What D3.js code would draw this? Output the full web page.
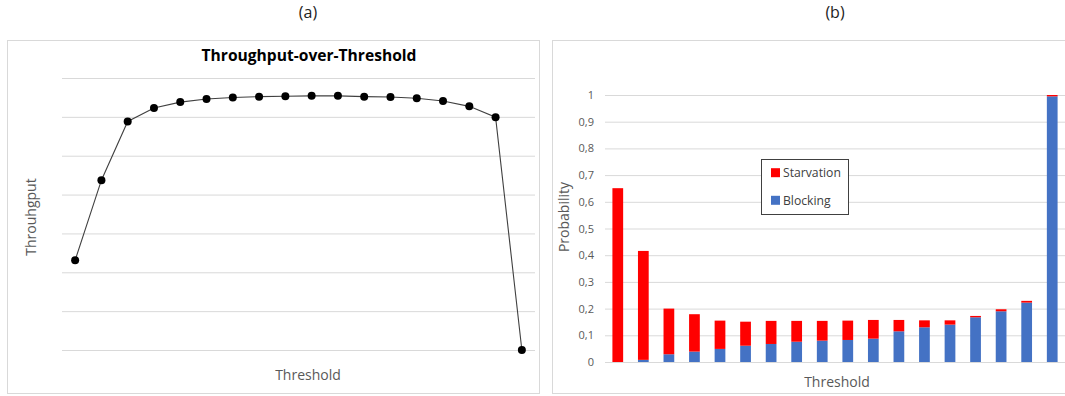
<!DOCTYPE html>
<html><head><meta charset="utf-8">
<script src="https://cdn.jsdelivr.net/npm/d3@7"></script>
<style>
body{margin:0;background:#fff;}
svg{display:block;font-family:"Open Sans","Noto Sans",sans-serif;}
</style>
</head><body>
<svg id="c" width="1065" height="396"></svg>
<script>
// ---- data ----
const thresholds = [1,2,3,4,5,6,7,8,9,10,11,12,13,14,15,16,17,18];
const throughput = [2.31,4.37,5.88,6.23,6.38,6.46,6.50,6.52,6.53,6.54,6.54,6.52,6.51,6.48,6.41,6.27,5.99,0];
const throughputGrid = [0,1,2,3,4,5,6,7];
const blocking   = [0,0.008,0.029,0.039,0.049,0.061,0.0675,0.076,0.080,0.0825,0.0875,0.115,0.130,0.140,0.1675,0.190,0.2225,0.995];
const starvation = [0.651,0.408,0.171,0.140,0.106,0.090,0.0865,0.078,0.074,0.0725,0.070,0.0425,0.026,0.016,0.005,0.0075,0.0065,0.005];
const probTicks = [0,0.1,0.2,0.3,0.4,0.5,0.6,0.7,0.8,0.9,1];
const seriesKeys = ["blocking","starvation"];
const seriesNames = {starvation:"Starvation", blocking:"Blocking"};
const seriesColors = {starvation:"#FF0000", blocking:"#4472C4"};

const svg = d3.select("#c");
const grid = "#D9D9D9", axisText = "#595959";

// panel captions
svg.append("text").attr("x",308).attr("y",12).attr("text-anchor","middle").attr("dominant-baseline","central")
  .attr("font-size",16).attr("fill","#222").text("(a)");
svg.append("text").attr("x",835).attr("y",12).attr("text-anchor","middle").attr("dominant-baseline","central")
  .attr("font-size",16).attr("fill","#222").text("(b)");

// panel borders
svg.append("rect").attr("x",7.5).attr("y",40.5).attr("width",532).attr("height",353)
  .attr("fill","none").attr("stroke",grid);
svg.append("rect").attr("x",552.5).attr("y",40.5).attr("width",520).attr("height",353)
  .attr("fill","none").attr("stroke",grid);

// ---- chart (a) ----
const xa = d3.scalePoint().domain(thresholds).range([62,535]).padding(0.5);
const ya = d3.scaleLinear().domain([0,7]).range([350,78]);
const ga = svg.append("g");
ga.append("g").attr("transform","translate(62,0)")
  .call(d3.axisLeft(ya).tickValues(throughputGrid).tickSize(-473).tickFormat(""))
  .call(g=>g.select(".domain").remove())
  .call(g=>g.selectAll("line").attr("stroke",grid));
ga.append("path").datum(throughput)
  .attr("fill","none").attr("stroke","#404040").attr("stroke-width",1.1)
  .attr("d", d3.line().x((d,i)=>xa(thresholds[i])).y(d=>ya(d)));
ga.selectAll("circle").data(throughput).join("circle")
  .attr("cx",(d,i)=>xa(thresholds[i])).attr("cy",d=>ya(d)).attr("r",4).attr("fill","#000");
ga.append("text").attr("x",309).attr("y",55).attr("text-anchor","middle").attr("dominant-baseline","central")
  .attr("font-size",15.6).attr("font-weight","bold").attr("fill","#000").text("Throughput-over-Threshold");
ga.append("text").attr("x",308).attr("y",374).attr("text-anchor","middle").attr("dominant-baseline","central")
  .attr("font-size",14).attr("fill",axisText).text("Threshold");
ga.append("text").attr("transform","translate(30,217) rotate(-90)").attr("text-anchor","middle").attr("dominant-baseline","central")
  .attr("font-size",14).attr("fill",axisText).text("Throuhgput");

// ---- chart (b) ----
const xb = d3.scaleBand().domain(thresholds).range([605,1065]).paddingInner(0.58).paddingOuter(0.29);
const yb = d3.scaleLinear().domain([0,1]).range([362,95]);
const gb = svg.append("g");
gb.append("g").attr("transform","translate(605,0)")
  .call(d3.axisLeft(yb).tickValues(probTicks).tickSize(-470).tickPadding(11)
        .tickFormat(d=>d3.format("~g")(d).replace(".",",")))
  .call(g=>g.select(".domain").remove())
  .call(g=>g.selectAll("line").attr("stroke",grid))
  .call(g=>g.selectAll("text").attr("fill",axisText).attr("font-size",11).attr("font-family","'Open Sans',sans-serif"));
const rows = thresholds.map((t,i)=>({t, blocking:blocking[i], starvation:starvation[i]}));
const stacked = d3.stack().keys(seriesKeys)(rows);
gb.selectAll("g.s").data(stacked).join("g").attr("class","s").attr("fill",d=>seriesColors[d.key])
  .selectAll("rect").data(d=>d).join("rect")
  .attr("x",d=>xb(d.data.t)).attr("width",xb.bandwidth())
  .attr("y",d=>yb(d[1])).attr("height",d=>Math.max(0,yb(d[0])-yb(d[1])));
gb.append("text").attr("x",837).attr("y",381).attr("text-anchor","middle").attr("dominant-baseline","central")
  .attr("font-size",14).attr("fill",axisText).text("Threshold");
gb.append("text").attr("transform","translate(563,217) rotate(-90)").attr("text-anchor","middle").attr("dominant-baseline","central")
  .attr("font-size",14).attr("fill",axisText).text("Probability");

// legend
const lg = gb.append("g");
lg.append("rect").attr("x",761.5).attr("y",159.5).attr("width",87).attr("height",55)
  .attr("fill","#fff").attr("stroke","#404040");
const legendOrder = ["starvation","blocking"];
legendOrder.forEach((k,i)=>{
  const cy = 172.7 + i*27.6;
  lg.append("rect").attr("x",771).attr("y",cy-4.5).attr("width",9).attr("height",9).attr("fill",seriesColors[k]);
  lg.append("text").attr("x",783).attr("y",cy).attr("dominant-baseline","central")
    .attr("font-size",12.2).attr("fill","#404040").text(seriesNames[k]);
});
</script>
</body></html>
